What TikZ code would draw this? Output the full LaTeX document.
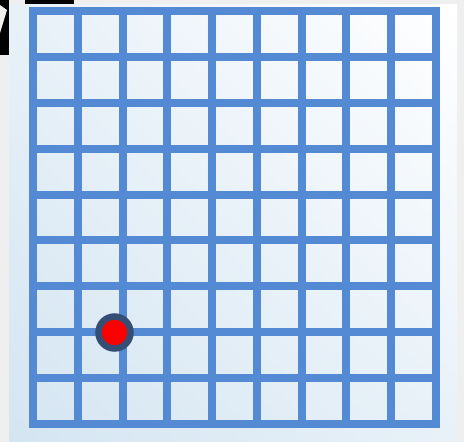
\documentclass[tikz,border=0pt]{standalone}
\usepackage{tikz}
\usetikzlibrary{calc,shadings}

\definecolor{gridblue}{RGB}{84,137,212}
\definecolor{backgray}{RGB}{239,239,239}
\definecolor{cellblue}{RGB}{212,229,242}
\definecolor{cellmid}{RGB}{232,241,248}
\definecolor{ringblue}{RGB}{52,78,118}
\definecolor{dotred}{RGB}{252,0,0}

\tikzset{
  gridline/.style={draw=gridblue, line width=8pt},
  marker/.style={circle, fill=dotred, draw=ringblue, line width=6.5pt, minimum size=32pt, inner sep=0pt}
}

\begin{document}
\begin{tikzpicture}[x=1pt,y=-1pt]
			\useasboundingbox (0,0) rectangle (464,442);
			\fill[backgray] (0,0) rectangle (464,442);
			% black bits at the corner
			\fill[black] (0,0) rectangle (9,55);
			\fill[black] (25,0) rectangle (74,4);
			\fill[backgray] (0,5) -- (7,10) -- (0,33) -- cycle;
			% panel
			\shade[lower left=cellblue, upper right=white, upper left=cellmid, lower right=cellmid] (9,4) rectangle (457,442);
			% grid
			\draw[gridline] (33,11) rectangle (436,424);
			\foreach \i in {1,...,8} {
				\draw[gridline] ({33+44.78*\i},11) -- ({33+44.78*\i},424);
				\draw[gridline] (33,{11+45.89*\i}) -- (436,{11+45.89*\i});
			}
			% position marker
			\node[marker] (pos) at (114.5,332.5) {};
		\end{tikzpicture}
\end{document}
